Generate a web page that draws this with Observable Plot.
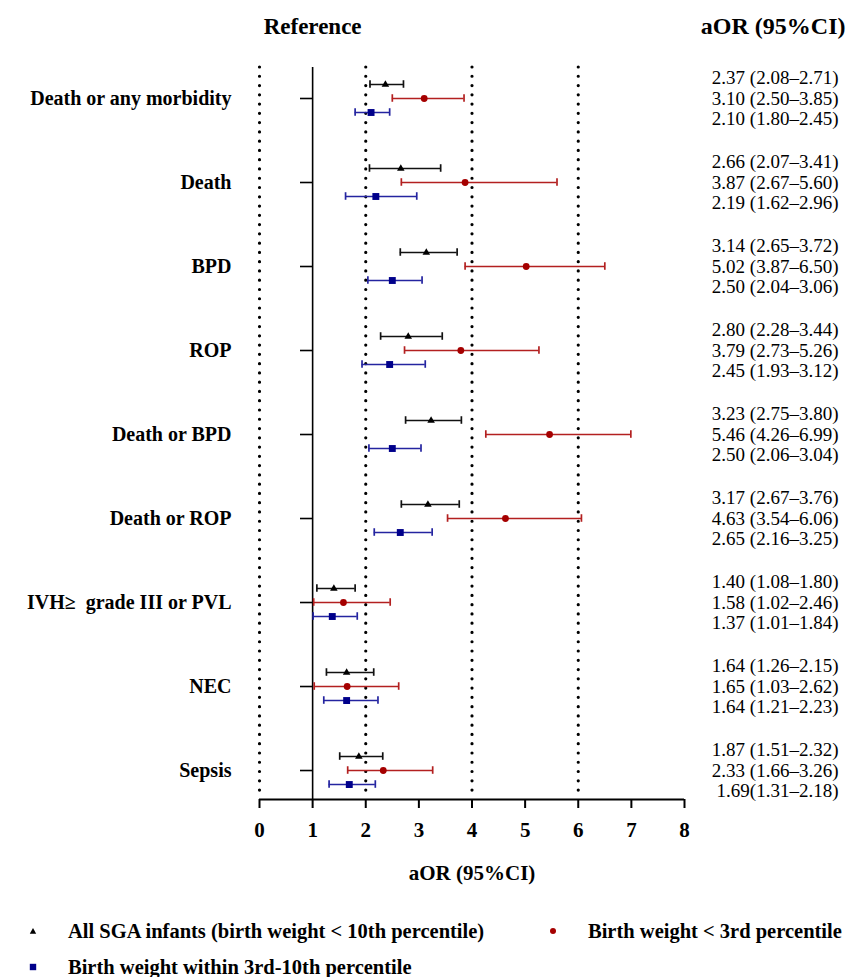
<!DOCTYPE html>
<html><head><meta charset="utf-8">
<script src="https://cdn.jsdelivr.net/npm/d3@7"></script>
<script src="https://cdn.jsdelivr.net/npm/@observablehq/plot@0.6"></script>
<style>
body{margin:0;background:#fff;font-family:"Liberation Serif","Times New Roman",serif;}
#wrap{position:relative;width:848px;height:977px;}
#legend{position:absolute;left:0;top:900px;width:848px;height:77px;}
.li{position:absolute;font-weight:bold;font-size:20.5px;line-height:1;white-space:nowrap;transform:translateY(-50%);}
.mk{position:absolute;transform:translate(-50%,-50%);display:block;}
</style></head><body><div id="wrap"><div id="chart"></div><div id="legend"></div></div>
<script>
const categories = ["Death or any morbidity","Death","BPD","ROP","Death or BPD","Death or ROP","IVH\u2265  grade III or PVL","NEC","Sepsis"];
const seriesNames = ["All SGA infants (birth weight < 10th percentile)","Birth weight < 3rd percentile","Birth weight within 3rd-10th percentile"];
// All SGA infants
const sgaOR = [2.37,2.66,3.14,2.80,3.23,3.17,1.40,1.64,1.87];
const sgaLo = [2.08,2.07,2.65,2.28,2.75,2.67,1.08,1.26,1.51];
const sgaHi = [2.71,3.41,3.72,3.44,3.80,3.76,1.80,2.15,2.32];
// Birth weight < 3rd percentile
const lowOR = [3.10,3.87,5.02,3.79,5.46,4.63,1.58,1.65,2.33];
const lowLo = [2.50,2.67,3.87,2.73,4.26,3.54,1.02,1.03,1.66];
const lowHi = [3.85,5.60,6.50,5.26,6.99,6.06,2.46,2.62,3.26];
// Birth weight within 3rd-10th percentile
const midOR = [2.10,2.19,2.50,2.45,2.50,2.65,1.37,1.64,1.69];
const midLo = [1.80,1.62,2.04,1.93,2.06,2.16,1.01,1.21,1.31];
const midHi = [2.45,2.96,3.06,3.12,3.04,3.25,1.84,2.23,2.18];
const ciText = [
 ["2.37 (2.08\u20132.71)","3.10 (2.50\u20133.85)","2.10 (1.80\u20132.45)"],
 ["2.66 (2.07\u20133.41)","3.87 (2.67\u20135.60)","2.19 (1.62\u20132.96)"],
 ["3.14 (2.65\u20133.72)","5.02 (3.87\u20136.50)","2.50 (2.04\u20133.06)"],
 ["2.80 (2.28\u20133.44)","3.79 (2.73\u20135.26)","2.45 (1.93\u20133.12)"],
 ["3.23 (2.75\u20133.80)","5.46 (4.26\u20136.99)","2.50 (2.06\u20133.04)"],
 ["3.17 (2.67\u20133.76)","4.63 (3.54\u20136.06)","2.65 (2.16\u20133.25)"],
 ["1.40 (1.08\u20131.80)","1.58 (1.02\u20132.46)","1.37 (1.01\u20131.84)"],
 ["1.64 (1.26\u20132.15)","1.65 (1.03\u20132.62)","1.64 (1.21\u20132.23)"],
 ["1.87 (1.51\u20132.32)","2.33 (1.66\u20133.26)","1.69(1.31\u20132.18)"]
];
const xTicks = [0,1,2,3,4,5,6,7,8];
const dottedAt = [0,2,4,6];
const refLine = 1;

const series = [
  {or: sgaOR, lo: sgaLo, hi: sgaHi, symbol: "triangle", r: 2.8, fill: "#000000", bar: "#111111"},
  {or: lowOR, lo: lowLo, hi: lowHi, symbol: "circle", r: 3.4, fill: "#a50000", bar: "#b32020"},
  {or: midOR, lo: midLo, hi: midHi, symbol: "square", r: 3.9, fill: "#00008b", bar: "#2424a0"}
];
const offsets = [-1/6, 0, 1/6];
const textOffsets = [-0.245, 0, 0.24];
const cap = 0.045;
const yDomain = [-0.369, 8.345];

const rows = categories.flatMap((c, i) => series.map((s, j) => ({
  cat: c, i, s: j, y: i + offsets[j], ty: i + textOffsets[j], or: s.or[i], lo: s.lo[i], hi: s.hi[i], label: ciText[i][j]
})));

const serifFont = "Liberation Serif, Times New Roman, serif";
const marks = [
  Plot.ruleX(dottedAt, {stroke: "black", strokeWidth: 3.2, strokeDasharray: "0,9.27", strokeLinecap: "round", insetBottom: 8}),
  Plot.ruleX([refLine], {stroke: "black", strokeWidth: 1.6}),
  Plot.ruleY([yDomain[1]], {stroke: "black", strokeWidth: 2}),
  Plot.axisX({ticks: xTicks, tickSize: 9, tickPadding: 14, strokeWidth: 2, fontSize: 21, fontWeight: "bold", label: null, tickFormat: d => String(d)}),
  Plot.axisY(d3.range(categories.length), {anchor: "left", tickSize: 0, tickPadding: 28, tickFormat: i => categories[i], fontSize: 20, fontWeight: "bold", label: null}),
  Plot.axisY(d3.range(categories.length), {anchor: "left", tickSize: 12, dx: 53, strokeWidth: 1.6, tickFormat: () => "", label: null}),
];
series.forEach((s, j) => {
  const d = rows.filter(r => r.s === j);
  marks.push(
    Plot.ruleY(d, {y: "y", x1: "lo", x2: "hi", stroke: s.bar, strokeWidth: 1.7}),
    Plot.ruleX(d, {x: "lo", y1: r => r.y - cap, y2: r => r.y + cap, stroke: s.bar, strokeWidth: 1.7}),
    Plot.ruleX(d, {x: "hi", y1: r => r.y - cap, y2: r => r.y + cap, stroke: s.bar, strokeWidth: 1.7}),
    Plot.dot(d, {x: "or", y: "y", symbol: s.symbol, r: s.r, fill: s.fill, stroke: "none"})
  );
});
marks.push(
  Plot.text(rows, {y: "ty", text: "label", frameAnchor: "right", dx: 154, textAnchor: "end", lineAnchor: "middle", fontSize: 19, fill: "black"}),
  Plot.text(["Reference"], {x: () => refLine, text: d => d, frameAnchor: "top", lineAnchor: "middle", dy: -41, fontSize: 23, fontWeight: "bold"}),
  Plot.text(["aOR (95%CI)"], {text: d => d, frameAnchor: "top-right", lineAnchor: "middle", dx: 161, dy: -41, textAnchor: "end", fontSize: 24, fontWeight: "bold"}),
  Plot.text(["aOR (95%CI)"], {text: d => d, frameAnchor: "bottom", lineAnchor: "middle", dy: 74, fontSize: 21, fontWeight: "bold"})
);

const chart = Plot.plot({
  width: 848, height: 900,
  marginTop: 67, marginBottom: 101, marginLeft: 259, marginRight: 164,
  style: {fontFamily: serifFont, background: "white", color: "black"},
  x: {domain: [0, 8]},
  y: {domain: yDomain, reverse: true},
  marks
});
document.getElementById("chart").appendChild(chart);

// Legend
const legend = document.getElementById("legend");
const legendItems = [
  {name: seriesNames[0], mx: 33, tx: 68, cy: 31, shape: "triangle", color: "#000000"},
  {name: seriesNames[1], mx: 553, tx: 588, cy: 31, shape: "circle", color: "#a50000"},
  {name: seriesNames[2], mx: 33, tx: 68, cy: 67, shape: "square", color: "#00008b"}
];
legendItems.forEach(it => {
  const ns = "http://www.w3.org/2000/svg";
  const svg = document.createElementNS(ns, "svg");
  svg.setAttribute("width", 10); svg.setAttribute("height", 10);
  svg.setAttribute("class", "mk");
  svg.style.left = it.mx + "px"; svg.style.top = it.cy + "px";
  let el;
  if (it.shape === "triangle") { el = document.createElementNS(ns, "path"); el.setAttribute("d", "M5,2L8.2,7.8L1.8,7.8Z"); }
  else if (it.shape === "circle") { el = document.createElementNS(ns, "circle"); el.setAttribute("cx", 5); el.setAttribute("cy", 5); el.setAttribute("r", 3); }
  else { el = document.createElementNS(ns, "rect"); el.setAttribute("x", 1.8); el.setAttribute("y", 1.8); el.setAttribute("width", 6.4); el.setAttribute("height", 6.4); }
  el.setAttribute("fill", it.color);
  svg.appendChild(el);
  legend.appendChild(svg);
  const t = document.createElement("div");
  t.className = "li"; t.textContent = it.name;
  t.style.left = it.tx + "px"; t.style.top = it.cy + "px";
  legend.appendChild(t);
});
</script></body></html>
